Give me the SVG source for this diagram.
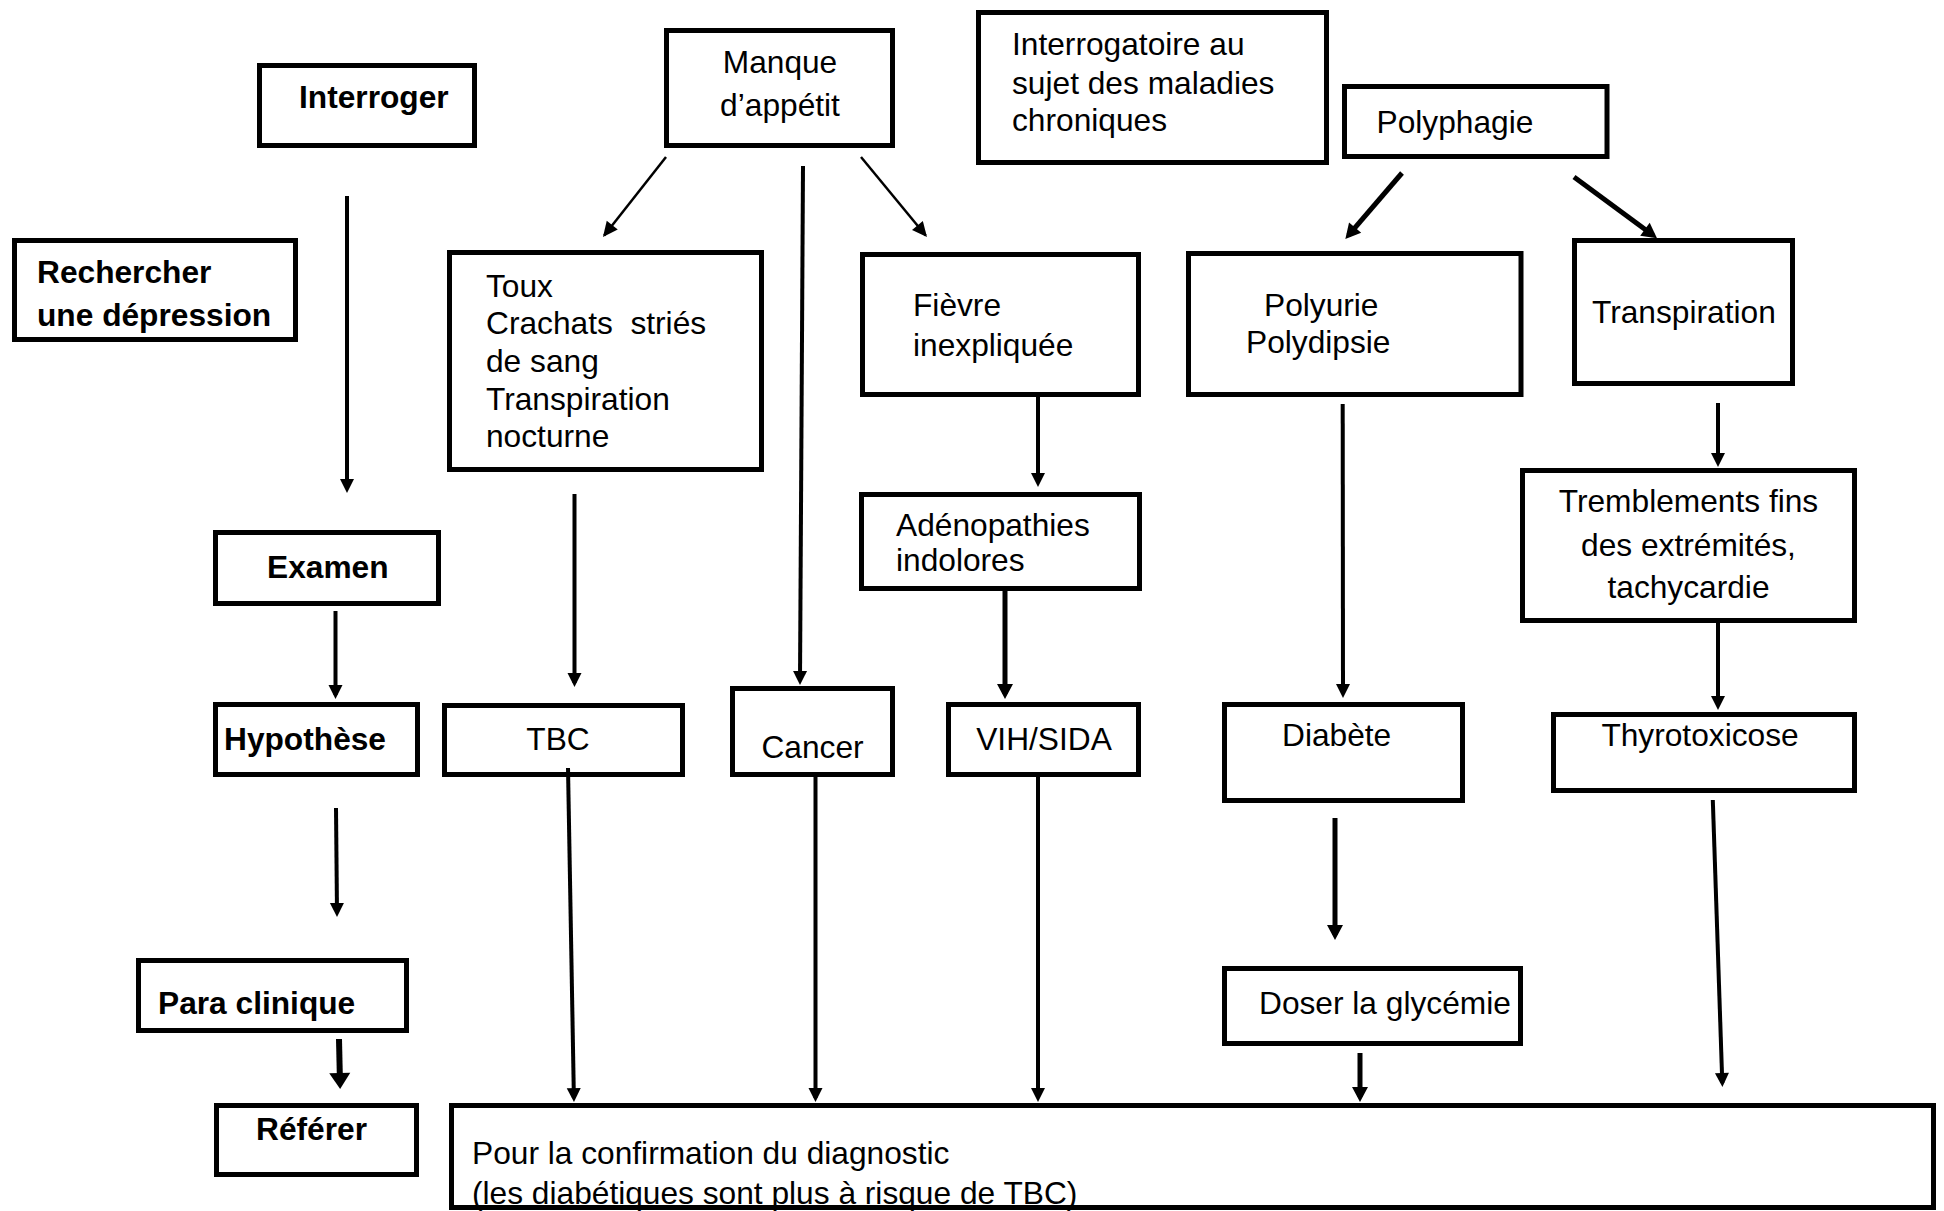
<svg xmlns="http://www.w3.org/2000/svg" width="1944" height="1211" viewBox="0 0 1944 1211">
<style>
.box{fill:#fff;stroke:#000;stroke-width:5}
.t{font-family:"Liberation Sans",Arial,sans-serif;font-size:31.7px;fill:#000;white-space:pre}
.b{font-weight:bold}
.c{text-anchor:middle}
.ln{stroke:#000;fill:none}
.s{stroke-width:4;marker-end:url(#ms)}
.m{stroke-width:5;marker-end:url(#mm)}
.th{stroke-width:2.5;marker-end:url(#mt)}
.bg{stroke-width:6;marker-end:url(#mb)}
</style>
<defs>
<marker id="ms" markerUnits="userSpaceOnUse" markerWidth="14" markerHeight="14" refX="10" refY="7" orient="auto" overflow="visible"><path d="M0,0 L14,7 L0,14 Z" fill="#000"/></marker>
<marker id="mm" markerUnits="userSpaceOnUse" markerWidth="15" markerHeight="16" refX="10" refY="8" orient="auto" overflow="visible"><path d="M0,0 L15,8 L0,16 Z" fill="#000"/></marker>
<marker id="mt" markerUnits="userSpaceOnUse" markerWidth="15" markerHeight="14" refX="13" refY="7" orient="auto" overflow="visible"><path d="M0,0 L15,7 L0,14 Z" fill="#000"/></marker>
<marker id="mb" markerUnits="userSpaceOnUse" markerWidth="16" markerHeight="21" refX="11" refY="10.5" orient="auto" overflow="visible"><path d="M0,0 L16,10.5 L0,21 Z" fill="#000"/></marker>
</defs>
<rect width="1944" height="1211" fill="#fff"/>
<g id="nodes">
<g id="interroger"><rect class="box" x="259.5" y="65.5" width="215" height="80"/><text class="t b" x="299" y="108">Interroger</text></g>
<g id="rechercher"><rect class="box" x="14.5" y="240.5" width="281" height="99"/><text class="t b" x="37" y="283">Rechercher</text><text class="t b" x="37" y="325.5">une dépression</text></g>
<g id="manque"><rect class="box" x="666.5" y="30.5" width="226" height="115"/><text class="t c" x="780" y="73">Manque</text><text class="t c" x="780" y="115.5">d’appétit</text></g>
<g id="interrogatoire"><rect class="box" x="978.5" y="12.5" width="348" height="150"/><text class="t" x="1012" y="55">Interrogatoire au</text><text class="t" x="1012" y="93.5">sujet des maladies</text><text class="t" x="1012" y="130.5">chroniques</text></g>
<g id="polyphagie"><rect class="box" x="1344.5" y="86.5" width="262.5" height="70"/><text class="t" x="1376.5" y="133">Polyphagie</text></g>
<g id="toux"><rect class="box" x="449.5" y="252.5" width="312" height="217"/><text class="t" x="486" y="297">Toux</text><text class="t" x="486" y="334">Crachats  striés</text><text class="t" x="486" y="372">de sang</text><text class="t" x="486" y="410">Transpiration</text><text class="t" x="486" y="447">nocturne</text></g>
<g id="fievre"><rect class="box" x="862.5" y="254.5" width="276" height="140"/><text class="t" x="913" y="316">Fièvre</text><text class="t" x="913" y="355.5">inexpliquée</text></g>
<g id="polyurie"><rect class="box" x="1188.5" y="253.5" width="332.5" height="141"/><text class="t" x="1264" y="316">Polyurie</text><text class="t" x="1246" y="353">Polydipsie</text></g>
<g id="transpiration"><rect class="box" x="1574.5" y="240.5" width="218" height="143"/><text class="t" x="1592" y="323">Transpiration</text></g>
<g id="adenopathies"><rect class="box" x="861.5" y="494.5" width="278" height="94"/><text class="t" x="896" y="536">Adénopathies</text><text class="t" x="896" y="571">indolores</text></g>
<g id="tremblements"><rect class="box" x="1522.5" y="470.5" width="332" height="150"/><text class="t c" x="1688.5" y="512">Tremblements fins</text><text class="t c" x="1688.5" y="555.5">des extrémités,</text><text class="t c" x="1688.5" y="597.5">tachycardie</text></g>
<g id="examen"><rect class="box" x="215.5" y="532.5" width="223" height="71"/><text class="t b" x="267" y="578">Examen</text></g>
<g id="hypothese"><rect class="box" x="215.5" y="704.5" width="202" height="70"/><text class="t b" x="224" y="750">Hypothèse</text></g>
<g id="tbc"><rect class="box" x="444.5" y="705.5" width="238" height="69"/><text class="t c" x="558" y="750">TBC</text></g>
<g id="cancer"><rect class="box" x="732.5" y="688.5" width="160" height="86"/><text class="t c" x="812.5" y="758">Cancer</text></g>
<g id="vih"><rect class="box" x="948.5" y="704.5" width="190" height="70"/><text class="t c" x="1044" y="750">VIH/SIDA</text></g>
<g id="diabete"><rect class="box" x="1224.5" y="704.5" width="238" height="96"/><text class="t" x="1282" y="746">Diabète</text></g>
<g id="thyrotoxicose"><rect class="box" x="1553.5" y="714.5" width="301" height="76"/><text class="t c" x="1700" y="746">Thyrotoxicose</text></g>
<g id="paraclinique"><rect class="box" x="138.5" y="960.5" width="268" height="70"/><text class="t b" x="158" y="1014">Para clinique</text></g>
<g id="doser"><rect class="box" x="1224.5" y="968.5" width="296" height="75"/><text class="t" x="1259" y="1014">Doser la glycémie</text></g>
<g id="referer"><rect class="box" x="216.5" y="1105.5" width="200" height="69"/><text class="t b" x="256" y="1140">Référer</text></g>
<g id="confirmation"><rect class="box" x="451.5" y="1105.5" width="1482" height="102"/><text class="t" x="472" y="1164">Pour la confirmation du diagnostic</text><text class="t" x="472" y="1203.5">(les diabétiques sont plus à risque de TBC)</text></g>
</g>
<g id="connectors">
<line class="ln s" x1="347" y1="196" x2="347" y2="489"/>
<line class="ln s" x1="335.5" y1="611" x2="335.5" y2="695"/>
<line class="ln s" x1="336" y1="808" x2="337" y2="913"/>
<line class="ln bg" x1="339" y1="1039" x2="340" y2="1084"/>
<line class="ln th" x1="666" y1="157" x2="604.2" y2="235.4"/>
<line class="ln s" x1="803" y1="166" x2="800" y2="681"/>
<line class="ln th" x1="861" y1="157" x2="925.7" y2="235.5"/>
<line class="ln s" x1="574.5" y1="494" x2="574.5" y2="683"/>
<line class="ln s" x1="1038" y1="392" x2="1038" y2="483"/>
<line class="ln m" x1="1005" y1="591" x2="1005" y2="694"/>
<line class="ln s" x1="568" y1="768" x2="573.9" y2="1098"/>
<line class="ln s" x1="815.5" y1="777" x2="815.5" y2="1098"/>
<line class="ln s" x1="1038" y1="777" x2="1038" y2="1098"/>
<line class="ln m" x1="1402" y1="173" x2="1348.6" y2="235.2"/>
<line class="ln m" x1="1574" y1="177" x2="1653" y2="235.2"/>
<line class="ln s" x1="1342.7" y1="404" x2="1343" y2="694"/>
<line class="ln s" x1="1718" y1="403" x2="1718" y2="463"/>
<line class="ln s" x1="1718" y1="623" x2="1718" y2="706"/>
<line class="ln m" x1="1335" y1="818" x2="1335" y2="935"/>
<line class="ln m" x1="1360" y1="1053" x2="1360" y2="1097"/>
<line class="ln s" x1="1712.8" y1="800" x2="1722.3" y2="1083"/>
</g>
</svg>
